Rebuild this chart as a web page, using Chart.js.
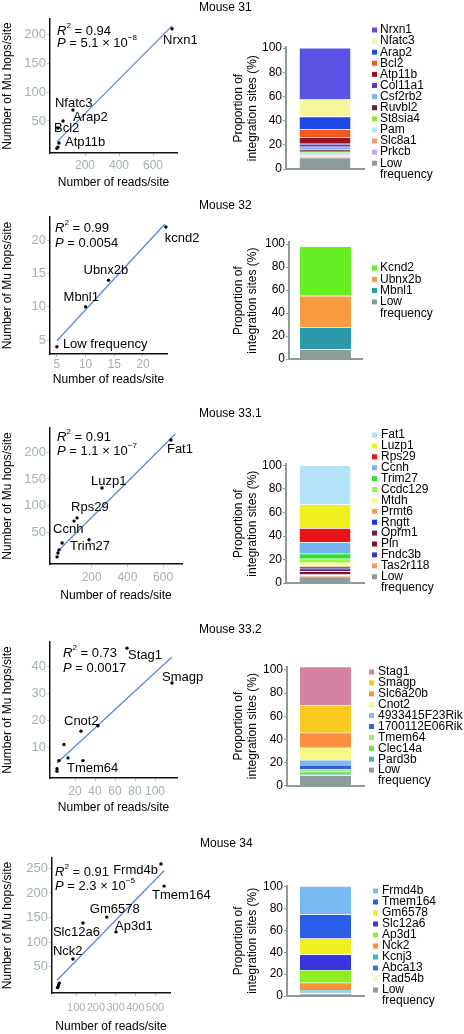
<!DOCTYPE html>
<html><head><meta charset="utf-8">
<script src="https://cdn.jsdelivr.net/npm/chart.js@4.4.1/dist/chart.umd.min.js"></script>
<style>
html,body{margin:0;padding:0;background:#fff;width:464px;height:1034px;overflow:hidden;position:relative;font-family:"Liberation Sans",Arial,Helvetica,sans-serif;}
canvas{position:absolute;}
canvas.sc{z-index:2;}
canvas.br{z-index:1;}
.ttl{position:absolute;z-index:3;font-size:12px;color:#000;white-space:nowrap;line-height:14px;}
.xt{position:absolute;z-index:4;font-size:12px;color:#000;white-space:nowrap;line-height:14px;text-align:center;}
</style></head><body>
<div class="ttl" style="left:199px;top:0px">Mouse 31</div>
<div class="ttl" style="left:199px;top:198px">Mouse 32</div>
<div class="ttl" style="left:199px;top:406px">Mouse 33.1</div>
<div class="ttl" style="left:199px;top:622px">Mouse 33.2</div>
<div class="ttl" style="left:200px;top:836px">Mouse 34</div>
<div class="xt" style="left:50px;width:127px;top:800px">Number of reads/site</div>
<script>
// ---------------- DATA ----------------
// Mouse 31 scatter
const m31Reads = [712, 129, 71, 41, 47, 41, 35];
const m31Hops  = [209, 69, 50, 38, 12, 5, 3];
const m31Names = ['Nrxn1','Nfatc3','Arap2','Bcl2','Atp11b','',''];
const m31FitX = [35, 712];
const m31FitY = [14, 214];
const m31XTicks = [200, 400, 600];
const m31YTicks = [50, 100, 150, 200];
const m31Stats = ['0.94', '5.1 \u00d7 10', '\u22128'];
// Mouse 31 bar (legend order, top to bottom)
const m31Genes = ['Nrxn1','Nfatc3','Arap2','Bcl2','Atp11b','Col11a1','Csf2rb2','Ruvbl2','St8sia4','Pam','Slc8a1','Prkcb','Low frequency'];
const m31Share = [42.5, 14.2, 10.4, 6.6, 5.5, 2.4, 2.5, 1.7, 1.6, 1.1, 1.1, 1.1, 9.3];

// Mouse 32 scatter
const m32Reads = [24, 14, 10, 5];
const m32Hops  = [22, 14, 10, 4];
const m32Names = ['kcnd2','Ubnx2b','Mbnl1','Low frequency'];
const m32FitX = [5, 23.8];
const m32FitY = [4.9, 22.4];
const m32XTicks = [5, 10, 15, 20];
const m32YTicks = [5, 10, 15, 20];
const m32Stats = ['0.99', '0.0054', ''];
const m32Genes = ['Kcnd2','Ubnx2b','Mbnl1','Low frequency'];
const m32Share = [43.1, 27.3, 19.2, 8.4];

// Mouse 33.1 scatter
const m331Reads = [644, 258, 118, 101, 185, 34, 17, 11, 6];
const m331Hops  = [223, 133, 77, 71, 36, 30, 17, 11, 4];
const m331Names = ['Fat1','Luzp1','Rps29','Ccnh','Trim27','','','',''];
const m331FitX = [5.6, 667];
const m331FitY = [13, 234];
const m331XTicks = [200, 400, 600];
const m331YTicks = [50, 100, 150, 200];
const m331Stats = ['0.91', '1.1 \u00d7 10', '\u22127'];
const m331Genes = ['Fat1','Luzp1','Rps29','Ccnh','Trim27','Ccdc129','Mtdh','Prmt6','Rngtt','Oprm1','Pln','Fndc3b','Tas2r118','Low frequency'];
const m331Share = [33.1, 20.2, 11.9, 9.9, 4.2, 3.4, 2.3, 1.1, 1.7, 2.3, 2.3, 1.1, 1.1, 5.4];

// Mouse 33.2 scatter
const m332Reads = [72, 117, 26, 43, 9, 13, 28, 4, 2, 2];
const m332Hops  = [47, 34, 16, 18, 11, 6, 5, 5, 2, 1];
const m332Names = ['Stag1','Smagp','Cnot2','','','Tmem64','','','',''];
const m332FitX = [2, 117];
const m332FitY = [4.1, 43.7];
const m332XTicks = [20, 40, 60, 80, 100];
const m332YTicks = [10, 20, 30, 40];
const m332Stats = ['0.73', '0.0017', ''];
const m332Genes = ['Stag1','Smagp','Slc6a20b','Cnot2','4933415F23Rik','1700112E06Rik','Tmem64','Clec14a','Pard3b','Low frequency'];
const m332Share = [33.2, 23.9, 12.9, 10.7, 4.3, 3.8, 2.0, 2.0, 1.2, 8.9];

// Mouse 34 scatter
const m34Reads = [530, 546, 255, 302, 134, 83, 14, 10, 7, 5];
const m34Hops  = [259, 214, 151, 121, 139, 66, 17, 13, 9, 8];
const m34Names = ['Frmd4b','Tmem164','Gm6578','Ap3d1','Slc12a6','Nck2','','','',''];
const m34FitX = [2.5, 546];
const m34FitY = [23, 245];
const m34XTicks = [100, 200, 300, 400, 500];
const m34YTicks = [50, 100, 150, 200, 250];
const m34Stats = ['0.91', '2.3 \u00d7 10', '\u22125'];
const m34Genes = ['Frmd4b','Tmem164','Gm6578','Slc12a6','Ap3d1','Nck2','Kcnj3','Abca13','Rad54b','Low frequency'];
const m34Share = [25.9, 22.0, 14.6, 14.3, 11.6, 6.7, 1.5, 1.0, 0.9, 2.1];

const barYTicks = [0, 20, 40, 60, 80, 100];

// ---------------- STYLE ----------------
const GREY = '#8d9b9b';
const m31Colors = ['#5a52e4','#f6f69c','#2048e6','#f05a1e','#981222','#5c3cb6','#72b4f0','#6c2040','#96e040','#b6e4f8','#f49a70','#c6a6f2',GREY];
const m32Colors = ['#66ee22','#f89a40','#2a9aaa',GREY];
const m331Colors = ['#b4e2f8','#f0f020','#e81414','#74b4f0','#30e030','#a2f040','#f8f8a0','#f49a50','#1434e0','#6e2050','#861022','#4434c4','#f49a5a',GREY];
const m332Colors = ['#d282a2','#f8ca20','#f89040','#f8f884','#80baf0','#3262d4','#a4e284','#62e244','#42b2b2',GREY];
const m34Colors = ['#7abaf2','#2a5ee8','#eef020','#3a34e2','#8cf020','#f8903c','#3ab8b8','#3a78d8','#f8f8a0',GREY];

const FF = '"Liberation Sans", Arial, Helvetica, sans-serif';
Chart.defaults.font.family = FF;
Chart.defaults.color = '#000';
Chart.defaults.animation = false;

function canvasAt(x, y, w, h, cls) {
  const c = document.createElement('canvas');
  c.className = cls;
  c.width = w; c.height = h;
  c.style.left = x + 'px'; c.style.top = y + 'px';
  c.style.width = w + 'px'; c.style.height = h + 'px';
  document.body.appendChild(c);
  return c;
}

function drawRich(ctx, x, y, parts, size) {
  let cx = x;
  for (const [t, st] of parts) {
    if (!t) continue;
    const fs = st === 's' ? size * 0.62 : size;
    ctx.font = (st === 'i' ? 'italic ' : '') + fs + 'px ' + FF;
    ctx.textBaseline = 'middle'; ctx.textAlign = 'left';
    const yy = st === 's' ? y - size * 0.4 : y;
    ctx.fillText(t, cx, yy);
    cx += ctx.measureText(t).width;
  }
}

const scatterText = {
  id: 'scatterText',
  afterDraw(chart, args, opts) {
    const ctx = chart.ctx, a = chart.chartArea;
    const xs = chart.scales.x, ys = chart.scales.y;
    const ds = chart.data.datasets[1];
    ctx.save();
    ctx.fillStyle = '#000';
    ds.data.forEach((p, i) => {
      const name = opts.names[i];
      if (!name) return;
      const off = opts.offsets[i];
      ctx.font = '13px ' + FF;
      ctx.textAlign = off[2] || 'left';
      ctx.textBaseline = 'middle';
      ctx.fillText(name, xs.getPixelForValue(p.x) + off[0], ys.getPixelForValue(p.y) + off[1]);
    });
    const s = opts.stats;
    drawRich(ctx, a.left + opts.statPos[0], a.top + opts.statPos[1], [['R','i'],['2','s'],[' = ' + s[0], '']], 13);
    drawRich(ctx, a.left + opts.statPos[0], a.top + opts.statPos[2], [['P','i'],[' = ' + s[1], ''],[s[2], 's']], 13);
    ctx.restore();
  }
};

const barLegend = {
  id: 'barLegend',
  afterDraw(chart, args, opts) {
    const ctx = chart.ctx;
    ctx.save();
    ctx.font = '12px ' + FF;
    ctx.textBaseline = 'middle'; ctx.textAlign = 'left';
    let y = opts.y0 - opts.cy;
    const sx = opts.sx - opts.cx, tx = opts.tx - opts.cx;
    opts.genes.forEach((g, i) => {
      ctx.fillStyle = opts.colors[i];
      ctx.fillRect(sx, y - 2.5, 5, 5);
      ctx.fillStyle = '#000';
      const lines = g.split(' ');
      lines.forEach((ln, k) => {
        ctx.fillText(ln, tx, y);
        if (k < lines.length - 1) y += opts.step;
      });
      y += opts.step;
    });
    ctx.restore();
  }
};

function scatterChart(o) {
  const lh = 12 * 1.2;
  const cx = 0, cy = o.top, cw = 232, ch = Math.round(o.xTitleY + lh / 2 - cy);
  const c = canvasAt(cx, cy, cw, ch, 'sc');
  const [L, T, R, B] = o.area;
  const pts = o.x.map((v, i) => ({x: v, y: o.y[i]}));
  const fit = o.fitX.map((v, i) => ({x: v, y: o.fitY[i]}));
  new Chart(c, {
    type: 'scatter',
    data: {datasets: [
      {data: fit, showLine: true, borderColor: '#5b87d8', borderWidth: 1.3, pointRadius: 0, order: 2, clip: false},
      {data: pts, pointRadius: 1.7, pointBackgroundColor: '#000', pointBorderColor: '#000', pointBorderWidth: 0, order: 1, clip: false}
    ]},
    options: {
      responsive: false, animation: false, devicePixelRatio: 1,
      layout: {padding: {left: 0, top: T - cy, right: cw - R, bottom: 0}},
      plugins: {legend: {display: false}, tooltip: {enabled: false},
        scatterText: {names: o.names, offsets: o.offsets, stats: o.stats, statPos: o.statPos}},
      scales: {
        x: {type: 'linear', min: o.xr[0], max: o.xr[1],
          afterBuildTicks: s => { s.ticks = o.xTicks.map(v => ({value: v})); },
          afterFit: s => { s.height = cy + ch - B; },
          grid: {display: true, drawOnChartArea: false, drawTicks: true, tickLength: 3, color: '#b9c4c8'},
          border: {display: true, color: '#111', width: 1.5},
          ticks: {color: '#a2b0b5', font: {size: o.xTickSize || 12}, padding: o.xTickPad, maxRotation: 0, autoSkip: false},
          title: {display: !o.htmlXTitle, text: 'Number of reads/site', font: {size: 12}, padding: 0, color: '#000'}
        },
        y: {type: 'linear', min: o.yr[0], max: o.yr[1],
          afterBuildTicks: s => { s.ticks = o.yTicks.map(v => ({value: v})); },
          afterFit: s => { s.width = L - cx; },
          grid: {display: true, drawOnChartArea: false, drawTicks: true, tickLength: 3, color: '#b9c4c8'},
          border: {display: true, color: '#111', width: 1.5},
          ticks: {color: '#a2b0b5', font: {size: 13}, padding: 1, autoSkip: false},
          title: {display: true, text: 'Number of Mu hops/site', font: {size: 12}, padding: 0, color: '#000'}
        }
      }
    },
    plugins: [scatterText]
  });
}

function barChart(o) {
  const [L, T100, R, B0] = o.area;
  const per = (B0 - T100) / 100;
  const cx = 232, cy = o.top, cw = 232, ch = o.bottom - o.top;
  const T = B0 - o.ymax * per;
  const c = canvasAt(cx, cy, cw, ch, 'br');
  const n = o.genes.length;
  const datasets = [];
  for (let i = n - 1; i >= 0; i--) {
    datasets.push({label: o.genes[i], data: [o.share[i]], backgroundColor: o.colors[i],
      borderColor: 'rgba(255,255,255,0.55)', borderWidth: {top: 0.6, bottom: 0, left: 0, right: 0}, borderSkipped: 'start',
      barPercentage: 51 / (R - L), categoryPercentage: 1});
  }
  new Chart(c, {
    type: 'bar',
    data: {labels: [o.name], datasets},
    options: {
      responsive: false, animation: false, devicePixelRatio: 1,
      layout: {padding: {left: 0, top: T - cy, right: cw - (R - cx), bottom: 0}},
      plugins: {legend: {display: false}, tooltip: {enabled: false},
        barLegend: {genes: o.genes, colors: o.colors, y0: o.leg[0], step: o.leg[1], sx: o.leg[2], tx: o.leg[3], cx, cy}},
      scales: {
        x: {stacked: true, offset: true,
          afterFit: s => { s.height = cy + ch - B0; },
          grid: {display: false, drawTicks: false},
          border: {display: true, color: GREY, width: 2},
          ticks: {display: false}
        },
        y: {stacked: true, min: 0, max: o.ymax,
          afterBuildTicks: s => { s.ticks = barYTicks.map(v => ({value: v})); },
          afterFit: s => { s.width = L - cx; },
          grid: {display: true, drawOnChartArea: false, drawTicks: true, tickLength: 3, color: GREY},
          border: {display: true, color: GREY, width: 2},
          ticks: {color: '#000', font: {size: 12}, padding: 1, autoSkip: false},
          title: {display: true, text: ['Proportion of', 'integration sites (%)'], font: {size: 12, lineHeight: 14 / 12}, padding: 0, color: '#000'}
        }
      }
    },
    plugins: [barLegend]
  });
}

// ---------------- CHARTS (bottom row first) ----------------
scatterChart({top: 816, area: [52, 858, 170, 993], xr: [-23, 576], yr: [-3, 271],
  x: m34Reads, y: m34Hops, names: m34Names, fitX: m34FitX, fitY: m34FitY, xTicks: m34XTicks, yTicks: m34YTicks,
  stats: m34Stats, statPos: [3, 14, 28], xTitleY: 1027, xTickPad: 5.2, xTickSize: 11,
  offsets: [[-3, 7, 'right'], [-12, 9], [-17, -8], [-1, -5], [-30, 9], [-20, -8], [0,0],[0,0],[0,0],[0,0]]});
barChart({name: 'Mouse 34', top: 855, bottom: 1034, area: [287, 886.7, 364, 996], ymax: 101,
  genes: m34Genes, share: m34Share, colors: m34Colors, leg: [891, 11, 373, 382]});

scatterChart({top: 606, area: [50, 642, 177, 778], xr: [-5, 122], yr: [-1.5, 49.3],
  x: m332Reads, y: m332Hops, names: m332Names, fitX: m332FitX, fitY: m332FitY, xTicks: m332XTicks, yTicks: m332YTicks,
  stats: m332Stats, statPos: [13, 11, 26], xTitleY: 807, xTickPad: 3.2, htmlXTitle: true,
  offsets: [[1, 7], [-10, -6], [-17, -10], [0,0], [0,0], [-1, 11], [0,0],[0,0],[0,0],[0,0]]});
barChart({name: 'Mouse 33.2', top: 640, bottom: 805, area: [287, 670, 364, 785.7], ymax: 103,
  genes: m332Genes, share: m332Share, colors: m332Colors, leg: [672, 10.9, 369, 378]});

scatterChart({top: 400, area: [50, 428, 182, 564], xr: [-33.6, 706], yr: [-9.4, 245.6],
  x: m331Reads, y: m331Hops, names: m331Names, fitX: m331FitX, fitY: m331FitY, xTicks: m331XTicks, yTicks: m331YTicks,
  stats: m331Stats, statPos: [7, 9, 23], xTitleY: 596, xTickPad: 3.2,
  offsets: [[-4, 9], [-11, -7], [-6, -10], [-21, 8], [-19, 7], [0,0],[0,0],[0,0],[0,0]]});
barChart({name: 'Mouse 33.1', top: 420, bottom: 600, area: [286, 465.5, 364, 583], ymax: 101,
  genes: m331Genes, share: m331Share, colors: m331Colors, leg: [435, 10.9, 372, 381]});

scatterChart({top: 196, area: [50, 217, 167, 354], xr: [3.8, 24.2], yr: [2.9, 23.5],
  x: m32Reads, y: m32Hops, names: m32Names, fitX: m32FitX, fitY: m32FitY, xTicks: m32XTicks, yTicks: m32YTicks,
  stats: m32Stats, statPos: [5, 11, 26], xTitleY: 380, xTickPad: 0.5,
  offsets: [[-1, 11], [-25, -10], [-22, -9], [6, -2]]});
barChart({name: 'Mouse 32', top: 210, bottom: 390, area: [289, 244, 362, 359], ymax: 101.5,
  genes: m32Genes, share: m32Share, colors: m32Colors, leg: [268, 11.3, 372, 380]});

scatterChart({top: 0, area: [50, 19, 177, 153], xr: [-5.9, 741], yr: [-5.2, 225.9],
  x: m31Reads, y: m31Hops, names: m31Names, fitX: m31FitX, fitY: m31FitY, xTicks: m31XTicks, yTicks: m31YTicks,
  stats: m31Stats, statPos: [7, 12, 24], xTitleY: 183, xTickPad: 2.2,
  offsets: [[-9, 12], [-18, -7], [10, -4], [-4, 0], [6, -1], [0, 0], [0, 0]]});
barChart({name: 'Mouse 31', top: 15, bottom: 190, area: [286, 48, 364, 169], ymax: 100.5,
  genes: m31Genes, share: m31Share, colors: m31Colors, leg: [30, 11.1, 372, 380]});
</script>
</body></html>
